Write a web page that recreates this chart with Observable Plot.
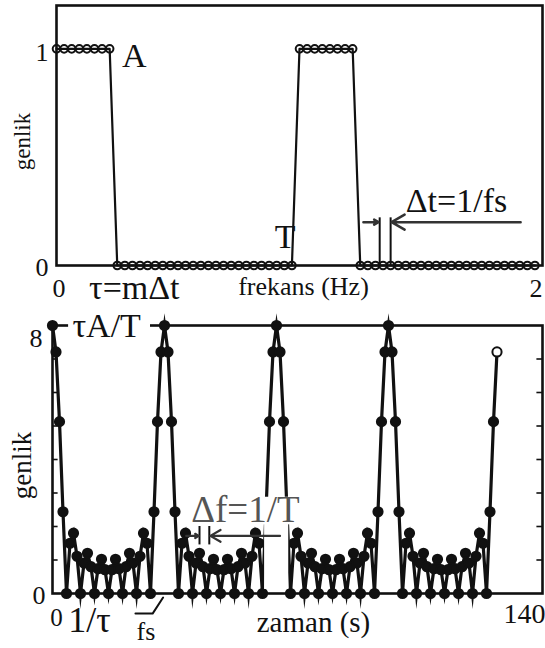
<!DOCTYPE html>
<html>
<head>
<meta charset="utf-8">
<script src="https://cdn.jsdelivr.net/npm/d3@7"></script>
<script src="https://cdn.jsdelivr.net/npm/@observablehq/plot@0.6"></script>
<style>
  body { margin: 0; background: #fff; }
  #chart { position: relative; width: 545px; height: 648px; overflow: hidden; background: #fff;
           font-family: "Liberation Serif", serif; }
  #chart svg { position: absolute; left: 0; }
  #chart svg text { font-family: "Liberation Serif", serif; }
</style>
</head>
<body>
<div id="chart"></div>
<script>
// Sampling rate (samples per second) of the pulse train
const fs = 32;

// Pulse train samples: two periods of T = 1 s, pulse width m = 8 samples, A = 1
const pulseSamples = [
  1, 1, 1, 1, 1, 1, 1, 1, 0, 0, 0, 0, 0, 0, 0, 0,
  0, 0, 0, 0, 0, 0, 0, 0, 0, 0, 0, 0, 0, 0, 0, 0,
  1, 1, 1, 1, 1, 1, 1, 1, 0, 0, 0, 0, 0, 0, 0, 0,
  0, 0, 0, 0, 0, 0, 0, 0, 0, 0, 0, 0, 0, 0, 0, 0
];

// Magnitude spectrum, one value per 1 Hz bin (k = 0 … 127)
const spectrum = [
  8, 7.21, 5.13, 2.44, 0, 1.50, 1.80, 1.11, 0, 0.91, 1.20, 0.80, 0, 0.74, 1.02, 0.71,
  0, 0.71, 1.02, 0.74, 0, 0.80, 1.20, 0.91, 0, 1.11, 1.80, 1.50, 0, 2.44, 5.13, 7.21,
  8, 7.21, 5.13, 2.44, 0, 1.50, 1.80, 1.11, 0, 0.91, 1.20, 0.80, 0, 0.74, 1.02, 0.71,
  0, 0.71, 1.02, 0.74, 0, 0.80, 1.20, 0.91, 0, 1.11, 1.80, 1.50, 0, 2.44, 5.13, 7.21,
  8, 7.21, 5.13, 2.44, 0, 1.50, 1.80, 1.11, 0, 0.91, 1.20, 0.80, 0, 0.74, 1.02, 0.71,
  0, 0.71, 1.02, 0.74, 0, 0.80, 1.20, 0.91, 0, 1.11, 1.80, 1.50, 0, 2.44, 5.13, 7.21,
  8, 7.21, 5.13, 2.44, 0, 1.50, 1.80, 1.11, 0, 0.91, 1.20, 0.80, 0, 0.74, 1.02, 0.71,
  0, 0.71, 1.02, 0.74, 0, 0.80, 1.20, 0.91, 0, 1.11, 1.80, 1.50, 0, 2.44, 5.13, 7.21
];

// Axis domains and tick labels
const timeDomain = [0, 2];
const ampDomain = [0, 1.2];
const topYTickLabels = [1, 0];
const topXTickLabels = [0, 2];
const freqDomain = [0, 140];
const magDomain = [0, 8];
const bottomYInnerTicks = [1, 2, 3, 4, 5, 6, 7];
const bottomXTickLabels = [0, 140];

// Annotation anchors (data units)
const dtMarkers = [1.33, 1.375];
const dtArrows = [
  {x1: 1.263, x2: 1.325, y: 0.2},
  {x1: 1.91, x2: 1.379, y: 0.2}
];
const dfMarkers = [42.0, 44.8];
const dfArrows = [
  {x1: 38.2, x2: 41.8, y: 1.72},
  {x1: 65.0, x2: 45.1, y: 1.72}
];
const fsLeader = [
  {f: 23.7, v: -0.6}, {f: 28.6, v: -0.6}, {f: 31.6, v: -0.12}
];
// white boxes behind the τA/T and Δf=1/T labels
const tauLabelBox = [{x1: 4.6, x2: 28.0, y1: 7.6, y2: 8.4}];
const dfLabelBox = [
  {x1: 37.6, x2: 72.6, y1: 2.05, y2: 2.87},
  {x1: 60.6, x2: 67.5, y1: 0.12, y2: 2.87}
];

const serif = "Liberation Serif";
const ink = "#111";

const timeData = pulseSamples.map((v, i) => ({t: i / fs, v}));
const freqData = spectrum.map((v, k) => ({f: k, v}));
const lastBin = freqData.length - 1;

const baseStyle = {
  fontFamily: serif, fontSize: "24px", background: "transparent",
  overflow: "visible", color: ink
};
const txt = {fontFamily: serif, fill: ink};

// Time-domain panel
const topPlot = Plot.plot({
  width: 545, height: 300,
  marginLeft: 56, marginRight: 3, marginTop: 5, marginBottom: 35,
  x: {domain: timeDomain, axis: null},
  y: {domain: ampDomain, axis: null},
  style: baseStyle,
  marks: [
    Plot.frame({stroke: ink, strokeWidth: 2.6}),
    Plot.line(timeData, {x: "t", y: "v", stroke: ink, strokeWidth: 2.2}),
    Plot.dot(timeData, {x: "t", y: "v", r: 3.8, stroke: ink, strokeWidth: 2, fill: "none"}),
    // tick labels
    Plot.text([topYTickLabels[0]], {...txt, x: 0, y: d => d, text: d => String(d), textAnchor: "end", dx: -8, dy: 4, fontSize: 26}),
    Plot.text([topYTickLabels[1]], {...txt, x: 0, y: d => d, text: d => String(d), textAnchor: "end", dx: -8, dy: 2, fontSize: 26}),
    Plot.text([topXTickLabels[0]], {...txt, x: d => d, y: 0, text: d => String(d), textAnchor: "start", dx: -4, dy: 23, fontSize: 26}),
    Plot.text([topXTickLabels[1]], {...txt, x: d => d, y: 0, text: d => String(d), textAnchor: "end", dy: 23, fontSize: 26}),
    // axis titles
    Plot.text(["frekans (Hz)"], {...txt, frameAnchor: "bottom", text: d => d, dx: 4, dy: 29, fontSize: 26}),
    Plot.text(["genlik"], {...txt, frameAnchor: "left", textAnchor: "middle", text: d => d, rotate: -90, dx: -34, dy: 6, fontSize: 23}),
    // annotations
    Plot.text(["A"], {...txt, x: 0.27, y: 1, text: d => d, textAnchor: "start", dy: 7, fontSize: 34}),
    Plot.text(["T"], {...txt, x: 1, y: 0.13, text: d => d, textAnchor: "end", dx: -4, fontSize: 34}),
    Plot.text(["τ=mΔt"], {...txt, x: 0.32, y: 0, text: d => d, dy: 23, fontSize: 34}),
    Plot.text(["Δt=1/fs"], {...txt, x: 1.646, y: 0.295, text: d => d, fontSize: 34}),
    Plot.ruleX(dtMarkers, {x: d => d, y1: 0, y2: 0.22, stroke: ink, strokeWidth: 2}),
    Plot.arrow(dtArrows, {x1: "x1", x2: "x2", y1: "y", y2: "y", stroke: "#333", strokeWidth: 2.5, headLength: 9})
  ]
});

// Frequency-domain panel
const bottomPlot = Plot.plot({
  width: 545, height: 348,
  marginLeft: 52, marginRight: 3, marginTop: 25, marginBottom: 55,
  x: {domain: freqDomain, axis: null},
  y: {domain: magDomain, axis: null},
  color: {type: "identity"},
  style: baseStyle,
  marks: [
    Plot.frame({stroke: ink, strokeWidth: 2.6}),
    Plot.ruleY(bottomYInnerTicks, {y: d => d, x1: 0, x2: 1.6, stroke: ink, strokeWidth: 1.6}),
    Plot.ruleY(bottomYInnerTicks, {y: d => d, x1: 138.4, x2: 140, stroke: ink, strokeWidth: 1.6}),
    Plot.line(freqData, {x: "f", y: "v", stroke: ink, strokeWidth: 3.2,
      strokeLinejoin: "miter", strokeMiterlimit: 12}),
    Plot.dot(freqData, {x: "f", y: "v", r: 4.6, stroke: ink, strokeWidth: 2,
      fill: (d, i) => (i === lastBin ? "white" : ink)}),
    Plot.rect(tauLabelBox, {x1: "x1", x2: "x2", y1: "y1", y2: "y2", fill: "white"}),
    Plot.rect(dfLabelBox, {x1: "x1", x2: "x2", y1: "y1", y2: "y2", fill: "white"}),
    // tick labels
    Plot.text([magDomain[1]], {...txt, x: 0, y: d => d, text: d => String(d), textAnchor: "end", dx: -10, dy: 13, fontSize: 26}),
    Plot.text([magDomain[0]], {...txt, x: 0, y: d => d, text: d => String(d), textAnchor: "end", dx: -7, dy: 2, fontSize: 26}),
    Plot.text([bottomXTickLabels[0]], {...txt, x: d => d, y: 0, text: d => String(d), dx: 4, dy: 24, fontSize: 25}),
    Plot.text([bottomXTickLabels[1]], {...txt, x: d => d, y: 0, text: d => String(d), textAnchor: "end", dx: 3, dy: 21, fontSize: 28}),
    // axis titles
    Plot.text(["zaman (s)"], {...txt, frameAnchor: "bottom", text: d => d, dx: 16, dy: 38, fontSize: 29}),
    Plot.text(["genlik"], {...txt, frameAnchor: "left", textAnchor: "middle", text: d => d, rotate: -90, dx: -30, dy: 6, fontSize: 27}),
    // annotations
    Plot.text(["τA/T"], {...txt, x: 5.7, y: 8, text: d => d, textAnchor: "start", dy: 1, fontSize: 34}),
    Plot.text(["1/τ"], {...txt, x: 10.6, y: 0, text: d => d, dy: 27, fontSize: 36}),
    Plot.text(["fs"], {...txt, x: 26.7, y: 0, text: d => d, dy: 38, fontSize: 26}),
    Plot.line(fsLeader, {x: "f", y: "v", stroke: ink, strokeWidth: 2}),
    Plot.text(["Δf=1/T"], {...txt, x: 55.1, y: 2.48, text: d => d, fontSize: 37, fill: "#555"}),
    Plot.ruleX(dfMarkers, {x: d => d, y1: 1.45, y2: 2.0, stroke: ink, strokeWidth: 2}),
    Plot.arrow(dfArrows, {x1: "x1", x2: "x2", y1: "y", y2: "y", stroke: "#333", strokeWidth: 2.2, headLength: 8})
  ]
});

// sharp (mitred) joins on the spectrum trace (first line mark of the panel)
d3.select(bottomPlot).select('g[aria-label="line"]')
  .attr("stroke-linejoin", "miter").attr("stroke-miterlimit", 12);

topPlot.style.top = "0px";
bottomPlot.style.top = "300px";
document.getElementById("chart").append(topPlot, bottomPlot);
</script>
</body>
</html>
